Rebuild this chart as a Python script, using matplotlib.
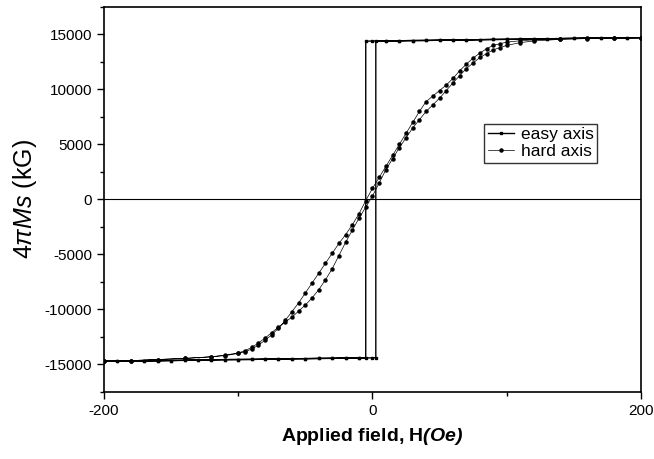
import numpy as np
import matplotlib
matplotlib.use('Agg')
import matplotlib.pyplot as plt
from matplotlib.ticker import MultipleLocator

plt.rcParams['font.family'] = 'Liberation Sans'
plt.rcParams['axes.unicode_minus'] = False
plt.rcParams['mathtext.fontset'] = 'custom'
plt.rcParams['mathtext.it'] = 'Liberation Sans:italic'
plt.rcParams['mathtext.rm'] = 'Liberation Sans'
plt.rcParams['mathtext.bf'] = 'Liberation Sans:italic:bold'

# easy axis loop (descending branch, then ascending branch)
easy_down_H = [200, 190, 180, 170, 160, 150, 140, 130, 120, 110, 100, 90, 80, 70, 60, 50, 40, 30, 20, 10, 0, -5,
               -5, -10, -20, -30, -40, -50, -60, -70, -80, -90, -100, -110, -120, -130, -140, -150, -160, -170, -180, -190, -200]
easy_down_M = [14700, 14690, 14680, 14670, 14660, 14640, 14620, 14600, 14580, 14560, 14550, 14540, 14520, 14500,
               14480, 14470, 14450, 14440, 14420, 14400, 14400, 14380,
               -14380, -14400, -14420, -14440, -14450, -14470, -14480, -14500, -14520, -14540, -14550, -14560,
               -14580, -14600, -14620, -14640, -14660, -14670, -14680, -14690, -14700]
easy_up_H = [-200, -190, -180, -170, -160, -150, -140, -130, -120, -110, -100, -90, -80, -70, -60, -50, -40, -30, -20, -10, 0, 2.5,
             2.5, 10, 20, 30, 40, 50, 60, 70, 80, 90, 100, 110, 120, 130, 140, 150, 160, 170, 180, 190, 200]
easy_up_M = [-14700, -14690, -14680, -14670, -14660, -14640, -14620, -14600, -14580, -14560, -14550, -14540, -14520,
             -14500, -14480, -14470, -14450, -14440, -14420, -14400, -14400, -14380,
             14380, 14400, 14420, 14440, 14450, 14470, 14480, 14500, 14520, 14540, 14550, 14560, 14580, 14600,
             14620, 14640, 14660, 14670, 14680, 14690, 14700]

# hard axis loop
hard_down_H = [200, 180, 160, 140, 120, 110, 100, 95, 90, 85, 80, 75, 70, 65, 60, 55, 50, 45, 40, 35, 30, 25, 20, 15,
               10, 5, 0, -5, -10, -15, -20, -25, -30, -35, -40, -45, -50, -55, -60, -65, -70, -75, -80, -85, -90,
               -95, -100, -110, -120, -140, -160, -180, -200]
hard_down_M = [14700, 14680, 14650, 14600, 14500, 14420, 14300, 14150, 14000, 13700, 13300, 12850, 12300, 11700,
               11000, 10400, 9900, 9400, 8900, 8000, 7000, 6000, 5000, 4000, 3000, 2000, 1000, -100, -1300, -2300,
               -3200, -4000, -4900, -5800, -6700, -7600, -8500, -9400, -10200, -11000, -11700, -12300, -12800,
               -13250, -13600, -13850, -14000, -14200, -14300, -14450, -14550, -14650, -14700]
hard_up_H = [-200, -180, -160, -140, -120, -110, -100, -95, -90, -85, -80, -75, -70, -65, -60, -55, -50, -45, -40,
             -35, -30, -25, -20, -15, -10, -5, 0, 5, 10, 15, 20, 25, 30, 35, 40, 45, 50, 55, 60, 65, 70, 75, 80, 85,
             90, 95, 100, 110, 120, 140, 160, 180, 200]
hard_up_M = [-14700, -14650, -14550, -14450, -14300, -14150, -13950, -13750, -13450, -13050, -12600, -12100, -11600,
             -11150, -10700, -10150, -9600, -8950, -8200, -7300, -6300, -5100, -3900, -2800, -1700, -700, 300, 1500,
             2700, 3700, 4700, 5600, 6500, 7250, 8000, 8600, 9200, 9900, 10600, 11250, 11900, 12400, 12900, 13250,
             13600, 13800, 14000, 14250, 14400, 14550, 14620, 14680, 14700]

fig = plt.figure(figsize=(6.54, 4.59), dpi=100)
ax = fig.add_axes([0.159, 0.146, 0.821, 0.839])

ax.axhline(0, color='black', lw=0.8, zorder=1)

ax.plot(easy_down_H + easy_up_H, easy_down_M + easy_up_M, color='black', ls='-', lw=1.0,
        marker='s', ms=1.8, label='easy axis')
ax.plot(hard_down_H + hard_up_H, hard_down_M + hard_up_M, color='black', ls='-', lw=0.5,
        marker='o', ms=2.2, label='hard axis')

ax.set_xlim(-200, 200)
ax.set_ylim(-17500, 17500)
ax.xaxis.set_major_locator(MultipleLocator(200))
ax.xaxis.set_minor_locator(MultipleLocator(100))
ax.yaxis.set_major_locator(MultipleLocator(5000))
ax.yaxis.set_minor_locator(MultipleLocator(2500))
ax.tick_params(which='major', direction='out', length=5, width=1, labelsize=11)
ax.tick_params(which='minor', direction='out', length=3, width=1)
ax.tick_params(top=False, right=False)
for s in ax.spines.values():
    s.set_linewidth(1.2)

ax.set_xlabel(r'Applied field, H$\mathbf{(Oe)}$', fontsize=14, fontweight='bold', labelpad=6)
ax.set_ylabel(r'$4\pi Ms$ (kG)', fontsize=18, labelpad=4)

leg = ax.legend(loc='upper right', bbox_to_anchor=(0.918, 0.697), fontsize=12.5, frameon=True,
                fancybox=False, edgecolor='black', handlelength=1.5, borderpad=0.2, numpoints=1,
                labelspacing=0.1, handletextpad=0.4, borderaxespad=0)
leg.get_frame().set_linewidth(1.0)

fig.savefig('out.png', dpi=100)
